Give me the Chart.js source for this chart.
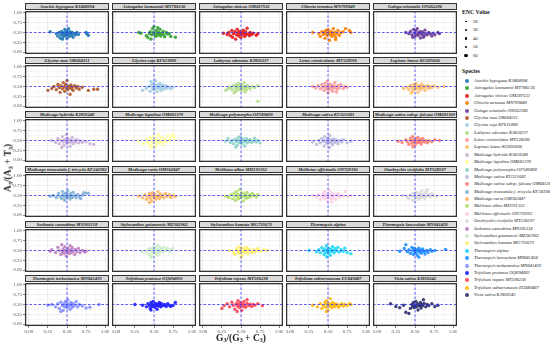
<!DOCTYPE html>
<html><head><meta charset="utf-8">
<script src="https://cdn.jsdelivr.net/npm/chart.js@4.4.1/dist/chart.umd.min.js"></script>
<style>
body{margin:0;background:#fff}
#wrap{position:relative;width:550px;height:345px;overflow:hidden;font-family:"Liberation Serif","DejaVu Serif",serif;color:#1a1a1a}
canvas{position:absolute}
.strip{position:absolute;height:7px;background:#d9d9d9;border:0.7px solid #333;box-sizing:border-box;font-style:italic;font-weight:bold;font-size:4.6px;line-height:6px;text-align:center;white-space:nowrap;overflow:hidden}
.ttl{position:absolute;font-weight:bold;white-space:nowrap}
.lg{position:absolute;font-size:4.6px;font-style:italic;white-space:nowrap;line-height:6px}
.dot{position:absolute;border-radius:50%}
sub{font-size:65%;vertical-align:-0.25em}
</style></head>
<body><div id="wrap"></div>
<script>
const speciesNames = [
  'Arachis hypogaea KJ468094','Astragalus laxmannii MT786136','Astragalus sinicus OM287532','Clitoria ternatea MN709849','Galega orientalis ON262206',
  'Glycine max OR664311','Glycine soja KF611800','Lathyrus odoratus KJ850237','Lotus corniculatus MT528596','Lupinus luteus KC695666',
  'Medicago hybrida KJ850240','Medicago lupulina OM681370','Medicago polymorpha OP589400','Medicago sativa KU321683','Medicago sativa subsp. falcata OM681369',
  'Medicago truncatula f. tricycla KF241982','Medicago varia OM362847','Melilotus albus MH191352','Melilotus officinalis ON729392','Onobrychis viciifolia MT528597',
  'Sesbania cannabina MN305118','Stylosanthes guianensis MZ382962','Stylosanthes hamata MG735673','Thermopsis alpina','Thermopsis lanceolata MN841458',
  'Thermopsis turkestanica MN841459','Trifolium pratense OQ694003','Trifolium repens MT506238','Trifolium subterraneum EU849487','Vicia sativa KJ850242'
];
const speciesColors = [
  '#1f78b4','#33a02c','#e31a1c','#ff7f00','#6a3d9a',
  '#b15928','#a6cee3','#b2df8a','#fb9a99','#fdbf6f',
  '#cab2d6','#ffff99','#8dd3c7','#bebada','#fb8072',
  '#80b1d3','#fdb462','#b3de69','#fccde5','#d9d9d9',
  '#bc80bd','#ccebc5','#ffed6f','#1fd8f5','#1e90ff',
  '#8590ff','#1a1aff','#ff4455','#ffb90f','#2e2e6e'
];
const encValues = [20, 30, 40, 50, 60];
const xTicks = [0, 0.25, 0.5, 0.75, 1];
const yTicks = [0, 0.25, 0.5, 0.75, 1];
const minorTicks = [0.125, 0.375, 0.625, 0.875];

// x,y pairs per species (G3/(G3+C3), A3/(A3+T3))
const arachis = [0.28,0.52,0.36,0.47,0.38,0.41,0.40,0.50,0.41,0.36,0.42,0.44,0.43,0.53,0.44,0.48,0.45,0.39,0.46,0.45,0.47,0.58,0.47,0.50,0.48,0.42,0.49,0.47,0.50,0.54,0.50,0.35,0.51,0.44,0.52,0.49,0.53,0.40,0.54,0.52,0.55,0.46,0.56,0.43,0.57,0.50,0.58,0.38,0.60,0.47,0.61,0.44,0.63,0.50,0.65,0.45,0.75,0.50,0.76,0.47,0.78,0.43,0.44,0.33,0.52,0.60];
const astrLax = [0.30,0.50,0.33,0.48,0.40,0.42,0.42,0.37,0.44,0.47,0.45,0.52,0.47,0.44,0.48,0.60,0.49,0.50,0.50,0.65,0.51,0.46,0.52,0.40,0.53,0.55,0.54,0.49,0.55,0.43,0.56,0.51,0.57,0.46,0.58,0.58,0.59,0.41,0.60,0.48,0.62,0.53,0.63,0.44,0.64,0.39,0.66,0.50,0.68,0.46,0.70,0.47,0.72,0.40,0.78,0.38,0.46,0.33,0.55,0.62];
const astrSin = [0.27,0.48,0.32,0.45,0.34,0.50,0.36,0.42,0.38,0.55,0.39,0.38,0.40,0.47,0.42,0.52,0.43,0.33,0.44,0.44,0.45,0.58,0.46,0.49,0.47,0.41,0.48,0.53,0.49,0.46,0.50,0.37,0.51,0.50,0.52,0.44,0.53,0.56,0.54,0.48,0.55,0.40,0.56,0.52,0.57,0.45,0.58,0.61,0.60,0.47,0.61,0.42,0.62,0.50,0.64,0.45,0.66,0.48,0.70,0.43,0.72,0.47];
const clitoria = [0.30,0.50,0.38,0.47,0.40,0.40,0.42,0.52,0.44,0.45,0.46,0.35,0.47,0.55,0.48,0.48,0.49,0.42,0.50,0.58,0.51,0.50,0.52,0.30,0.53,0.45,0.54,0.53,0.55,0.40,0.56,0.48,0.57,0.60,0.58,0.44,0.59,0.51,0.60,0.38,0.62,0.47,0.63,0.55,0.65,0.43,0.67,0.50,0.70,0.52,0.73,0.60,0.78,0.55,0.80,0.50,0.45,0.50,0.60,0.32];
const galega = [0.38,0.50,0.42,0.47,0.44,0.53,0.46,0.44,0.48,0.58,0.49,0.49,0.50,0.40,0.51,0.55,0.52,0.46,0.53,0.60,0.54,0.43,0.55,0.51,0.56,0.48,0.57,0.36,0.58,0.53,0.59,0.45,0.60,0.50,0.62,0.42,0.63,0.56,0.64,0.47,0.66,0.44,0.68,0.50,0.70,0.46,0.72,0.41,0.74,0.48,0.76,0.44,0.80,0.50,0.82,0.47,0.47,0.38,0.61,0.38];
const glyMax = [0.25,0.40,0.30,0.45,0.33,0.50,0.36,0.42,0.38,0.55,0.40,0.47,0.41,0.35,0.42,0.52,0.44,0.44,0.45,0.60,0.46,0.49,0.47,0.38,0.48,0.55,0.49,0.46,0.50,0.65,0.51,0.42,0.52,0.51,0.53,0.47,0.54,0.30,0.55,0.54,0.56,0.44,0.57,0.49,0.58,0.40,0.60,0.52,0.62,0.46,0.64,0.50,0.66,0.43,0.70,0.48,0.78,0.40,0.85,0.43,0.90,0.43];
const glySoja = [0.35,0.40,0.40,0.45,0.43,0.50,0.45,0.38,0.47,0.55,0.48,0.47,0.49,0.42,0.50,0.60,0.51,0.50,0.52,0.44,0.53,0.53,0.54,0.37,0.55,0.48,0.56,0.56,0.57,0.45,0.58,0.51,0.59,0.40,0.60,0.47,0.61,0.54,0.62,0.43,0.64,0.49,0.65,0.52,0.66,0.45,0.68,0.50,0.70,0.47,0.72,0.44,0.75,0.48,0.46,0.63,0.52,0.65,0.58,0.58];
const lathyrus = [0.30,0.40,0.33,0.45,0.36,0.48,0.38,0.42,0.40,0.52,0.42,0.46,0.43,0.38,0.44,0.55,0.45,0.49,0.46,0.43,0.47,0.58,0.48,0.51,0.49,0.45,0.50,0.40,0.51,0.54,0.52,0.48,0.53,0.44,0.54,0.60,0.55,0.50,0.56,0.46,0.57,0.41,0.58,0.53,0.60,0.48,0.62,0.44,0.65,0.50,0.68,0.47,0.72,0.52,0.72,0.12,0.41,0.34,0.55,0.36];
const lotus = [0.30,0.50,0.34,0.46,0.37,0.52,0.40,0.44,0.42,0.55,0.43,0.48,0.45,0.40,0.46,0.58,0.47,0.50,0.48,0.45,0.49,0.63,0.50,0.52,0.51,0.42,0.52,0.48,0.53,0.56,0.54,0.44,0.55,0.50,0.56,0.38,0.57,0.53,0.58,0.46,0.59,0.60,0.60,0.49,0.62,0.43,0.63,0.52,0.65,0.47,0.67,0.55,0.70,0.45,0.72,0.50,0.75,0.48,0.50,0.34,0.61,0.36];
const lupinus = [0.35,0.45,0.40,0.48,0.42,0.42,0.44,0.52,0.46,0.46,0.47,0.38,0.48,0.55,0.49,0.49,0.50,0.43,0.51,0.58,0.52,0.50,0.53,0.45,0.54,0.35,0.55,0.53,0.56,0.47,0.57,0.42,0.58,0.51,0.59,0.56,0.60,0.46,0.62,0.50,0.63,0.40,0.64,0.48,0.66,0.53,0.68,0.45,0.70,0.50,0.72,0.47,0.75,0.52,0.80,0.48,0.88,0.50,0.45,0.33];
const medHyb = [0.30,0.50,0.35,0.45,0.38,0.55,0.40,0.42,0.42,0.50,0.44,0.60,0.45,0.46,0.46,0.38,0.47,0.53,0.48,0.48,0.49,0.65,0.50,0.43,0.51,0.56,0.52,0.50,0.53,0.45,0.54,0.35,0.55,0.52,0.56,0.47,0.57,0.58,0.58,0.42,0.60,0.50,0.61,0.46,0.63,0.53,0.65,0.44,0.67,0.49,0.70,0.45,0.75,0.47,0.80,0.42,0.85,0.40,0.43,0.32];
const medLup = [0.30,0.48,0.36,0.42,0.40,0.52,0.42,0.45,0.44,0.38,0.45,0.57,0.46,0.49,0.48,0.43,0.49,0.61,0.50,0.52,0.51,0.46,0.52,0.35,0.53,0.55,0.54,0.48,0.55,0.42,0.56,0.64,0.57,0.51,0.58,0.45,0.60,0.58,0.61,0.49,0.62,0.40,0.64,0.53,0.66,0.47,0.68,0.62,0.70,0.50,0.72,0.56,0.74,0.65,0.76,0.60,0.78,0.52,0.47,0.33];
const medPoly = [0.30,0.48,0.33,0.55,0.36,0.45,0.38,0.50,0.40,0.42,0.42,0.53,0.44,0.47,0.45,0.38,0.46,0.57,0.47,0.50,0.48,0.44,0.49,0.60,0.50,0.49,0.51,0.41,0.52,0.54,0.53,0.46,0.54,0.51,0.55,0.36,0.56,0.48,0.57,0.55,0.58,0.44,0.59,0.50,0.60,0.47,0.62,0.52,0.64,0.45,0.66,0.49,0.68,0.56,0.70,0.46,0.72,0.50,0.75,0.44,0.43,0.33];
const medSat = [0.30,0.46,0.35,0.40,0.38,0.50,0.40,0.44,0.42,0.55,0.44,0.48,0.45,0.36,0.46,0.60,0.47,0.51,0.48,0.45,0.49,0.42,0.50,0.56,0.51,0.49,0.52,0.63,0.53,0.44,0.54,0.52,0.55,0.47,0.56,0.39,0.57,0.54,0.58,0.49,0.59,0.45,0.60,0.52,0.62,0.47,0.63,0.42,0.65,0.50,0.68,0.46,0.70,0.52,0.75,0.44,0.80,0.48,0.52,0.32];
const medFal = [0.28,0.48,0.33,0.45,0.38,0.52,0.40,0.47,0.42,0.40,0.44,0.55,0.45,0.49,0.46,0.43,0.47,0.60,0.48,0.51,0.49,0.46,0.50,0.38,0.51,0.54,0.52,0.48,0.53,0.44,0.54,0.58,0.55,0.50,0.56,0.45,0.57,0.52,0.58,0.41,0.59,0.48,0.60,0.55,0.62,0.46,0.64,0.50,0.66,0.44,0.68,0.49,0.72,0.47,0.76,0.52,0.82,0.50,0.47,0.34];
const medTru = [0.28,0.48,0.32,0.50,0.36,0.45,0.39,0.55,0.41,0.47,0.43,0.42,0.44,0.60,0.45,0.52,0.46,0.46,0.47,0.38,0.48,0.56,0.49,0.49,0.50,0.44,0.51,0.62,0.52,0.51,0.53,0.47,0.54,0.41,0.55,0.55,0.56,0.49,0.57,0.45,0.58,0.58,0.60,0.50,0.62,0.44,0.64,0.53,0.66,0.47,0.68,0.42,0.70,0.51,0.72,0.57,0.75,0.56,0.78,0.56];
const medVar = [0.30,0.48,0.35,0.44,0.38,0.52,0.40,0.40,0.42,0.47,0.44,0.55,0.45,0.43,0.46,0.50,0.47,0.36,0.48,0.57,0.49,0.48,0.50,0.44,0.51,0.53,0.52,0.40,0.53,0.50,0.54,0.46,0.55,0.60,0.56,0.48,0.57,0.42,0.58,0.54,0.60,0.47,0.61,0.51,0.63,0.44,0.65,0.55,0.67,0.48,0.70,0.52,0.72,0.45,0.75,0.50,0.78,0.47,0.44,0.32];
const melAlb = [0.30,0.48,0.34,0.45,0.37,0.52,0.39,0.42,0.41,0.56,0.42,0.49,0.43,0.38,0.44,0.60,0.45,0.46,0.46,0.53,0.47,0.42,0.48,0.65,0.49,0.50,0.50,0.45,0.51,0.57,0.52,0.48,0.53,0.36,0.54,0.54,0.55,0.47,0.56,0.51,0.57,0.43,0.58,0.58,0.59,0.49,0.60,0.45,0.62,0.52,0.63,0.47,0.65,0.55,0.67,0.50,0.70,0.46,0.72,0.52];
const melOff = [0.30,0.50,0.35,0.46,0.38,0.52,0.40,0.40,0.42,0.48,0.44,0.55,0.45,0.43,0.46,0.60,0.47,0.50,0.48,0.44,0.49,0.36,0.50,0.53,0.51,0.47,0.52,0.63,0.53,0.49,0.54,0.42,0.55,0.56,0.56,0.48,0.57,0.45,0.58,0.52,0.60,0.40,0.61,0.50,0.63,0.55,0.65,0.46,0.67,0.51,0.70,0.48,0.73,0.60,0.76,0.47,0.80,0.50,0.55,0.33];
const onobrychis = [0.35,0.50,0.40,0.46,0.42,0.42,0.44,0.52,0.46,0.48,0.47,0.38,0.48,0.55,0.50,0.50,0.51,0.44,0.52,0.58,0.53,0.47,0.54,0.52,0.55,0.41,0.56,0.49,0.57,0.55,0.58,0.45,0.59,0.62,0.60,0.50,0.61,0.47,0.62,0.53,0.63,0.43,0.64,0.57,0.65,0.49,0.66,0.64,0.68,0.52,0.70,0.46,0.72,0.55,0.74,0.50,0.78,0.48,0.50,0.37];
const sesbania = [0.28,0.48,0.30,0.52,0.35,0.45,0.38,0.58,0.40,0.50,0.42,0.40,0.43,0.65,0.44,0.47,0.45,0.54,0.46,0.43,0.47,0.60,0.48,0.50,0.49,0.36,0.50,0.46,0.51,0.55,0.52,0.49,0.53,0.42,0.54,0.62,0.55,0.52,0.56,0.45,0.57,0.57,0.58,0.48,0.60,0.40,0.61,0.53,0.63,0.47,0.65,0.55,0.67,0.44,0.70,0.50,0.73,0.46,0.75,0.48];
const styloG = [0.35,0.48,0.40,0.44,0.42,0.52,0.44,0.40,0.45,0.56,0.46,0.48,0.47,0.36,0.48,0.53,0.49,0.45,0.50,0.60,0.51,0.50,0.52,0.42,0.53,0.55,0.54,0.47,0.55,0.63,0.56,0.51,0.57,0.44,0.58,0.57,0.59,0.49,0.60,0.53,0.62,0.46,0.63,0.58,0.65,0.50,0.67,0.55,0.70,0.48,0.72,0.52,0.75,0.56,0.46,0.32,0.55,0.38];
const styloH = [0.35,0.50,0.40,0.46,0.42,0.40,0.44,0.55,0.46,0.48,0.47,0.43,0.48,0.60,0.49,0.52,0.50,0.45,0.51,0.37,0.52,0.56,0.53,0.49,0.54,0.44,0.55,0.53,0.56,0.47,0.57,0.58,0.58,0.50,0.59,0.42,0.60,0.54,0.62,0.48,0.64,0.45,0.66,0.52,0.68,0.46,0.70,0.50,0.72,0.55,0.75,0.48,0.80,0.52,0.84,0.50,0.50,0.33];
const thermAlp = [0.25,0.50,0.35,0.47,0.38,0.52,0.40,0.44,0.42,0.57,0.44,0.49,0.45,0.40,0.46,0.54,0.47,0.46,0.48,0.62,0.49,0.50,0.50,0.43,0.51,0.56,0.52,0.48,0.53,0.38,0.54,0.53,0.55,0.47,0.56,0.60,0.57,0.51,0.58,0.44,0.60,0.55,0.61,0.49,0.63,0.58,0.65,0.46,0.67,0.52,0.70,0.48,0.72,0.56,0.75,0.45,0.80,0.42,0.48,0.34];
const thermLan = [0.30,0.48,0.36,0.55,0.38,0.65,0.40,0.47,0.42,0.52,0.44,0.43,0.46,0.58,0.47,0.50,0.48,0.40,0.49,0.55,0.50,0.47,0.51,0.44,0.52,0.52,0.53,0.38,0.54,0.49,0.55,0.56,0.56,0.46,0.57,0.51,0.58,0.43,0.59,0.48,0.60,0.54,0.62,0.47,0.63,0.41,0.65,0.50,0.67,0.45,0.70,0.52,0.72,0.48,0.76,0.50,0.90,0.53,0.55,0.33];
const thermTur = [0.25,0.48,0.30,0.50,0.35,0.44,0.38,0.52,0.40,0.40,0.42,0.56,0.44,0.47,0.45,0.35,0.46,0.52,0.47,0.44,0.48,0.58,0.49,0.49,0.50,0.42,0.51,0.62,0.52,0.51,0.53,0.46,0.54,0.38,0.55,0.55,0.56,0.48,0.57,0.43,0.58,0.53,0.60,0.47,0.62,0.57,0.64,0.44,0.66,0.50,0.70,0.46,0.75,0.41,0.80,0.43,0.92,0.50,0.42,0.32];
const trifPra = [0.25,0.50,0.35,0.48,0.40,0.44,0.42,0.52,0.44,0.47,0.45,0.40,0.46,0.55,0.47,0.50,0.48,0.45,0.49,0.58,0.50,0.49,0.51,0.43,0.52,0.53,0.53,0.47,0.54,0.38,0.55,0.51,0.56,0.46,0.57,0.55,0.58,0.49,0.59,0.44,0.60,0.52,0.62,0.47,0.64,0.50,0.66,0.45,0.68,0.52,0.70,0.48,0.72,0.45,0.75,0.48,0.78,0.55,0.46,0.36];
const trifRep = [0.25,0.40,0.28,0.47,0.32,0.52,0.35,0.44,0.38,0.56,0.40,0.48,0.42,0.38,0.44,0.53,0.45,0.46,0.46,0.60,0.47,0.50,0.48,0.42,0.49,0.55,0.50,0.47,0.51,0.35,0.52,0.52,0.53,0.45,0.54,0.58,0.55,0.49,0.56,0.43,0.58,0.53,0.60,0.47,0.62,0.51,0.64,0.45,0.66,0.50,0.68,0.48,0.72,0.52,0.78,0.47,0.45,0.32,0.58,0.62];
const trifSub = [0.30,0.48,0.36,0.44,0.40,0.52,0.42,0.40,0.44,0.47,0.46,0.55,0.47,0.43,0.48,0.60,0.49,0.50,0.50,0.36,0.51,0.53,0.52,0.46,0.53,0.65,0.54,0.50,0.55,0.42,0.56,0.55,0.57,0.48,0.58,0.44,0.59,0.52,0.60,0.46,0.62,0.50,0.64,0.43,0.66,0.48,0.68,0.52,0.70,0.46,0.72,0.50,0.75,0.47,0.78,0.52,0.80,0.50,0.48,0.32];
const vicia = [0.18,0.52,0.25,0.45,0.30,0.42,0.35,0.48,0.38,0.30,0.42,0.27,0.44,0.40,0.46,0.50,0.47,0.45,0.48,0.55,0.49,0.42,0.50,0.48,0.51,0.58,0.52,0.44,0.53,0.52,0.54,0.36,0.55,0.49,0.56,0.46,0.57,0.55,0.58,0.41,0.59,0.50,0.60,0.47,0.61,0.62,0.62,0.53,0.64,0.44,0.66,0.50,0.68,0.47,0.72,0.52,0.76,0.45,0.80,0.48];

const speciesPoints = [arachis, astrLax, astrSin, clitoria, galega, glyMax, glySoja, lathyrus, lotus, lupinus,
  medHyb, medLup, medPoly, medSat, medFal, medTru, medVar, melAlb, melOff, onobrychis,
  sesbania, styloG, styloH, thermAlp, thermLan, thermTur, trifPra, trifRep, trifSub, vicia];

const wrap = document.getElementById('wrap');
const colX = [25, 112, 199, 286, 373];
const rowY = [11, 65, 119, 174, 229, 283];
const PW = 84, PH = 43;

function toPairs(flat) {
  const out = [];
  for (let i = 0; i < flat.length; i += 2) out.push({ x: flat[i], y: flat[i + 1] });
  return out;
}
function hexA(hex, a) {
  const n = parseInt(hex.slice(1), 16);
  return `rgba(${n >> 16},${(n >> 8) & 255},${n & 255},${a})`;
}
const isMajor = v => Math.abs(v * 4 - Math.round(v * 4)) < 1e-6;
const allTicks = [...xTicks, ...minorTicks].sort((a, b) => a - b);
const allYTicks = [...yTicks, ...minorTicks].sort((a, b) => a - b);
// chart.js reserves room for overflowing edge labels, drop it so panels line up
function noPad(s) { s.paddingTop = 0; s.paddingBottom = 0; s.paddingLeft = 0; s.paddingRight = 0; }

// frame + dashed 0.5 reference lines
const panelDeco = {
  id: 'panelDeco',
  afterDatasetsDraw(chart) {
    const { ctx, chartArea: a, scales } = chart;
    ctx.save();
    ctx.beginPath(); ctx.rect(a.left, a.top, a.width, a.height); ctx.clip();
    ctx.strokeStyle = 'rgba(45,45,255,0.85)';
    ctx.lineWidth = 0.9;
    ctx.setLineDash([2.5, 2]);
    const px = scales.x.getPixelForValue(0.5), py = scales.y.getPixelForValue(0.5);
    ctx.beginPath(); ctx.moveTo(px, a.top); ctx.lineTo(px, a.bottom); ctx.stroke();
    ctx.beginPath(); ctx.moveTo(a.left, py); ctx.lineTo(a.right, py); ctx.stroke();
    ctx.restore();
    ctx.save();
    ctx.strokeStyle = '#333';
    ctx.lineWidth = 1.3;
    ctx.strokeRect(a.left + 0.6, a.top + 0.6, a.width - 1.2, a.height - 1.2);
    ctx.restore();
  }
};

speciesNames.forEach((name, i) => {
  const r = Math.floor(i / 5), c = i % 5;
  const padL = c === 0 ? 22 : 0, padB = r === 5 ? 10 : 0;
  const cv = document.createElement('canvas');
  cv.width = PW + padL; cv.height = PH + padB;
  cv.style.width = cv.width + 'px'; cv.style.height = cv.height + 'px';
  cv.style.left = (colX[c] - padL) + 'px'; cv.style.top = rowY[r] + 'px';
  wrap.appendChild(cv);

  const strip = document.createElement('div');
  strip.className = 'strip';
  strip.style.left = colX[c] + 'px'; strip.style.top = (rowY[r] - 8) + 'px'; strip.style.width = PW + 'px';
  strip.textContent = name;
  wrap.appendChild(strip);

  const tickFont = { family: '"Liberation Serif", serif', size: 5 };
  const gridCfg = (show) => ({
    color: ctx => isMajor(ctx.tick.value) ? '#e4e4e4' : '#f2f2f2',
    lineWidth: 0.6,
    drawTicks: show,
    tickLength: 2,
    tickColor: ctx => isMajor(ctx.tick.value) ? '#333' : 'rgba(0,0,0,0)'
  });

  new Chart(cv, {
    type: 'scatter',
    data: {
      datasets: [{
        data: toPairs(speciesPoints[i]),
        backgroundColor: hexA(speciesColors[i], 0.9),
        borderWidth: 0,
        pointRadius: 1.7
      }]
    },
    options: {
      responsive: false,
      maintainAspectRatio: false,
      animation: false,
      devicePixelRatio: 1,
      layout: { padding: 0, autoPadding: false },
      plugins: { legend: { display: false }, tooltip: { enabled: false } },
      scales: {
        x: {
          type: 'linear', min: -0.05, max: 1.05,
          afterBuildTicks: s => { s.ticks = allTicks.map(v => ({ value: v })); },
          afterFit: s => { s.height = padB; noPad(s); },
          border: { display: false },
          grid: gridCfg(r === 5),
          ticks: {
            display: r === 5, font: tickFont, color: '#4d4d4d', padding: 0.5, maxRotation: 0, autoSkip: false,
            callback: v => isMajor(v) ? v.toFixed(2) : ''
          }
        },
        y: {
          type: 'linear', min: -0.05, max: 1.05,
          afterBuildTicks: s => { s.ticks = allYTicks.map(v => ({ value: v })); },
          afterFit: s => { s.width = padL; noPad(s); },
          border: { display: false },
          grid: gridCfg(c === 0),
          ticks: {
            display: c === 0, font: tickFont, color: '#4d4d4d', padding: 1, autoSkip: false,
            callback: v => isMajor(v) ? v.toFixed(2) : ''
          }
        }
      }
    },
    plugins: [panelDeco]
  });
});

// axis titles
const yt = document.createElement('div');
yt.className = 'ttl';
yt.style.cssText += 'font-size:9.5px;left:8px;top:168px;transform:translate(-50%,-50%) rotate(-90deg);';
yt.innerHTML = 'A<sub>3</sub>/(A<sub>3</sub> + T<sub>3</sub>)';
wrap.appendChild(yt);
const xt = document.createElement('div');
xt.className = 'ttl';
xt.style.cssText += 'font-size:9.5px;left:241px;top:338px;transform:translate(-50%,-50%);';
xt.innerHTML = 'G<sub>3</sub>/(G<sub>3</sub> + C<sub>3</sub>)';
wrap.appendChild(xt);

// legends
function addText(cls, txt, x, y, extra) {
  const d = document.createElement('div');
  d.className = cls; d.textContent = txt;
  d.style.left = x + 'px'; d.style.top = y + 'px';
  if (extra) d.style.cssText += extra;
  wrap.appendChild(d);
}
function addDot(cx, cy, d, col) {
  const e = document.createElement('div');
  e.className = 'dot';
  e.style.cssText += `left:${cx - d / 2}px;top:${cy - d / 2}px;width:${d}px;height:${d}px;background:${col};`;
  wrap.appendChild(e);
}
addText('ttl', 'ENC Value', 462, 9, 'font-size:5.8px;');
const encSizes = [1.3, 1.8, 2.3, 2.7, 3.1];
encValues.forEach((v, k) => {
  const y = 21.5 + k * 8.5;
  addDot(466, y, encSizes[k], '#000');
  addText('lg', String(v), 473, y - 3, 'font-style:normal;');
});
addText('ttl', 'Species', 462, 68, 'font-size:5.8px;');
speciesNames.forEach((n, k) => {
  const y = 81 + k * 7.38;
  addDot(467, y, 4, hexA(speciesColors[k], 0.9));
  addText('lg', n, 474, y - 3);
});
</script>
</body></html>
